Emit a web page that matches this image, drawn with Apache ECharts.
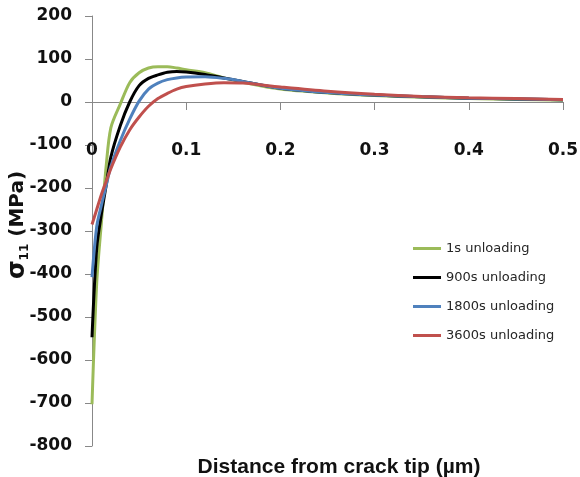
<!DOCTYPE html>
<html>
<head>
<meta charset="utf-8">
<script src="https://cdn.jsdelivr.net/npm/echarts@6/dist/echarts.min.js"></script>
<style>html,body{margin:0;padding:0;background:#fff}#c{width:580px;height:477px}</style>
</head>
<body>
<div id="c"></div>
<script>
const xs      = [0, 0.005, 0.01, 0.015, 0.02, 0.03, 0.04, 0.05, 0.06, 0.07, 0.08, 0.09, 0.1, 0.12, 0.14, 0.16, 0.2, 0.25, 0.3, 0.35, 0.4, 0.45, 0.5];
const s1      = [-703, -421, -280, -150, -60, -5, 45, 68, 79, 82, 82, 79, 75, 68, 56, 46, 30, 21, 15, 11, 8, 6, 4];
const s900    = [-547, -340, -260, -195, -128, -55, 0, 38, 55, 63, 69, 71, 70, 64, 56, 48, 32, 22, 16, 12, 9, 7, 5];
const s1800   = [-407, -290, -240, -195, -150, -90, -40, 2, 30, 44, 52, 56, 58, 59, 55, 48, 32, 22, 16, 12, 9, 7, 5];
const s3600   = [-285, -250, -215, -185, -155, -105, -65, -35, -10, 8, 20, 30, 36, 42, 45, 44, 35, 25, 18, 13, 10, 8, 6];
const seriesNames = ['1s unloading', '900s unloading', '1800s unloading', '3600s unloading'];
const seriesVals  = [s1, s900, s1800, s3600];
const colors = ['#9BBB59', '#000000', '#4F81BD', '#C0504D'];

const FF = 'DejaVu Sans';
const chart = echarts.init(document.getElementById('c'), null, {renderer: 'canvas'});
chart.setOption({
  animation: false,
  backgroundColor: '#fff',
  title: {
    text: 'Distance from crack tip (µm)',
    left: 334, top: 452, textAlign: 'center',
    textStyle: {fontFamily: 'Liberation Sans', fontWeight: 'bold', fontSize: 21, color: '#111'}
  },
  graphic: [{
    type: 'text', x: 18, y: 225, rotation: Math.PI / 2,
    style: {
      text: '{s|σ}{sub|11}{n| (MPa)}',
      align: 'center', verticalAlign: 'middle',
      rich: {
        s: {fontFamily: FF, fontWeight: 'bold', fontSize: 24, fill: '#111', lineHeight: 26},
        sub: {fontFamily: FF, fontWeight: 'bold', fontSize: 12, fill: '#111', verticalAlign: 'bottom', lineHeight: 14},
        n: {fontFamily: FF, fontWeight: 'bold', fontSize: 20, fill: '#111', lineHeight: 26}
      }
    }
  }],
  grid: [
    {left: 92, right: 17, top: 16, bottom: 31, containLabel: false, outerBoundsMode: 'none'},
    {left: 92, right: 17, top: 16, height: 86, containLabel: false, outerBoundsMode: 'none'}
  ],
  legend: {
    orient: 'vertical', left: 408, top: 237,
    itemWidth: 28, itemHeight: 3, itemGap: 16, icon: 'rect',
    data: seriesNames,
    textStyle: {fontFamily: FF, fontSize: 13, lineHeight: 13, color: '#262626'}
  },
  xAxis: [{
    type: 'value', min: 0, max: 0.5, interval: 0.1, gridIndex: 0, show: false
  }, {
    type: 'value', min: 0, max: 0.5, interval: 0.1, gridIndex: 1, position: 'bottom',
    axisLine: {onZero: false, lineStyle: {color: '#888', width: 1}},
    axisTick: {show: true, inside: false, length: 8, lineStyle: {color: '#888'}},
    splitLine: {show: false},
    axisLabel: {margin: 40, fontFamily: FF, fontWeight: 'bold', fontSize: 17, color: '#111',
      formatter: v => String(Math.round(v * 10) / 10)}
  }],
  yAxis: [{
    type: 'value', min: -800, max: 200, interval: 100, gridIndex: 0,
    axisLine: {show: true, lineStyle: {color: '#888', width: 1}},
    axisTick: {show: true, inside: false, length: 7, lineStyle: {color: '#888'}},
    splitLine: {show: false},
    axisLabel: {margin: 20, fontFamily: FF, fontWeight: 'bold', fontSize: 17, color: '#111'}
  }, {
    type: 'value', min: 0, max: 200, gridIndex: 1, show: false
  }],
  series: seriesNames.map((n, k) => ({
    name: n, type: 'line', showSymbol: false, symbol: 'none', smooth: 0.3,
    xAxisIndex: 0, yAxisIndex: 0,
    lineStyle: {width: 3, color: colors[k]}, itemStyle: {color: colors[k]},
    data: xs.map((x, i) => [x, seriesVals[k][i]])
  }))
});
</script>
</body>
</html>
